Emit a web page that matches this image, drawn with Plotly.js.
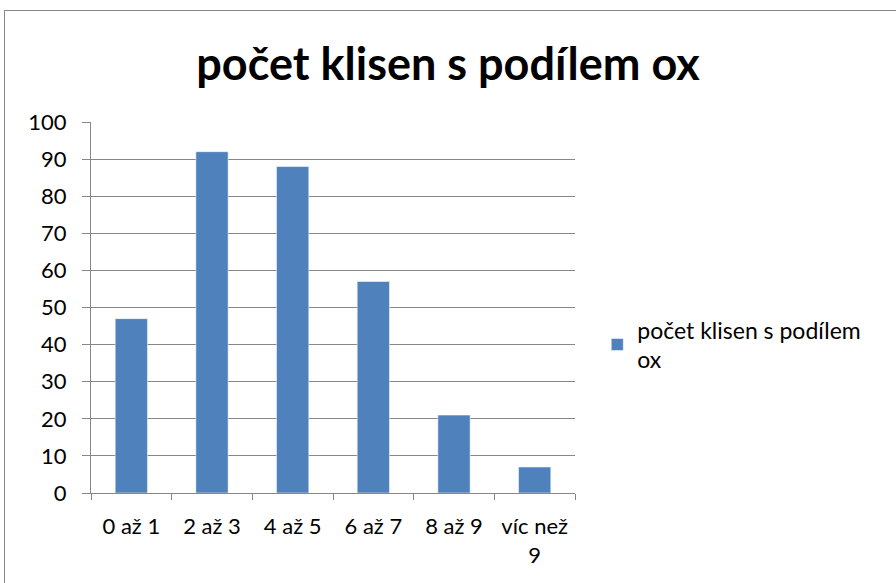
<!DOCTYPE html>
<html>
<head>
<meta charset="utf-8">
<script src="https://cdn.plot.ly/plotly-3.0.1.min.js"></script>
<style>
html,body{margin:0;padding:0;background:#fff;overflow:hidden;}
#frame{position:absolute;left:4px;top:10px;width:1000px;height:700px;border:1px solid #878787;box-sizing:border-box;}
#chart{position:absolute;left:0;top:0;width:896px;height:583px;}
</style>
</head>
<body>
<div id="frame"></div>
<div id="chart"></div>
<script>
const categories = ["0 až 1", "2 až 3", "4 až 5", "6 až 7", "8 až 9", "víc než 9"];
const tickLabels = ["0 až 1", "2 až 3", "4 až 5", "6 až 7", "8 až 9", "víc než<br>9"];
const values = [47, 92, 88, 57, 21, 7];
const seriesName = "počet klisen s podílem<br>ox";
const titleText = "počet klisen s podílem ox";

const font = "Lato, 'Open Sans', sans-serif";

Plotly.newPlot("chart", [{
  type: "bar",
  x: categories,
  y: values,
  name: seriesName,
  marker: {color: "#4f81bd", line: {color: "#ffffff", width: 0.5}},
  showlegend: true
}], {
  width: 896, height: 583,
  paper_bgcolor: "rgba(0,0,0,0)",
  plot_bgcolor: "rgba(0,0,0,0)",
  margin: {l: 91, r: 321, t: 122, b: 90},
  bargap: 0.6,
  title: {text: "<b>" + titleText + "</b>", font: {family: font, size: 45, color: "#000"}, x: 0.5, xanchor: "center", y: 0.889, yanchor: "middle"},
  font: {family: font, size: 22, color: "#000"},
  xaxis: {
    type: "category",
    tickvals: categories,
    ticktext: tickLabels,
    tickson: "boundaries",
    ticks: "outside", ticklen: 6, tickcolor: "#878787", tickwidth: 1,
    ticklabelstandoff: 14,
    showline: true, linecolor: "#878787", linewidth: 1,
    showgrid: false,
    tickfont: {family: font, size: 22, color: "#000"}
  },
  yaxis: {
    range: [0, 100], dtick: 10,
    ticks: "outside", ticklen: 8, tickcolor: "#878787",
    ticklabelstandoff: 11,
    showline: true, linecolor: "#878787", linewidth: 1,
    showgrid: true, gridcolor: "#878787", gridwidth: 1,
    zeroline: false,
    tickfont: {family: font, size: 22, color: "#000"}
  },
  legend: {x: 1.046, y: 0.40, xanchor: "left", yanchor: "middle", font: {family: font, size: 23, color: "#000"}, bgcolor: "rgba(0,0,0,0)", itemwidth: 30}
}, {displayModeBar: false, staticPlot: true});
</script>
</body>
</html>
